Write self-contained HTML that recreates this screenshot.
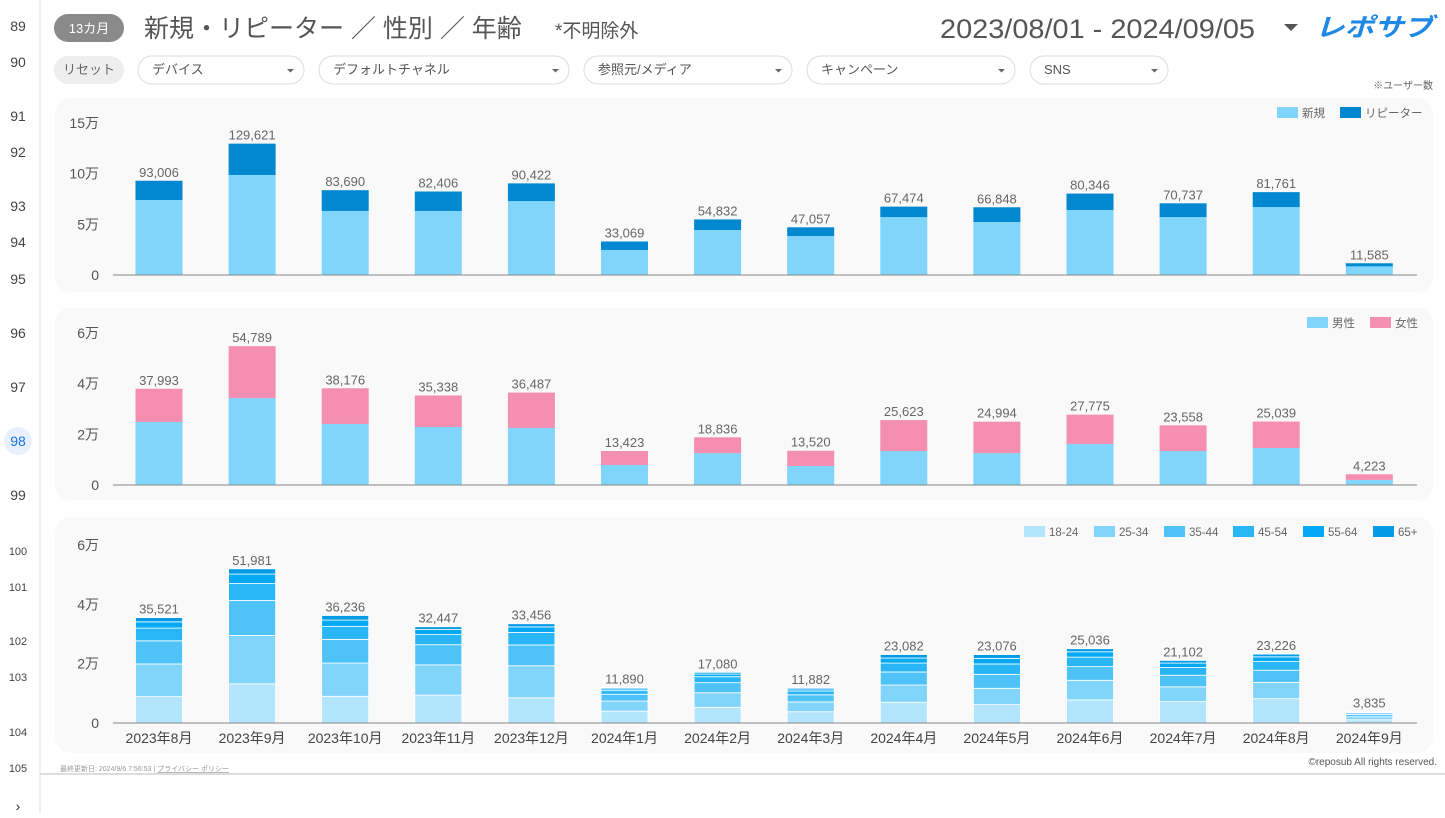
<!DOCTYPE html>
<html><head><meta charset="utf-8">
<style>
body{margin:0;background:#fff;width:1445px;height:813px;overflow:hidden;font-family:"Liberation Sans","Noto Sans CJK JP",sans-serif;}
svg text{font-family:"Liberation Sans","Noto Sans CJK JP",sans-serif;}
</style></head>
<body>
<svg id="s" width="1445" height="813" viewBox="0 0 1445 813" xmlns="http://www.w3.org/2000/svg">
<rect width="1445" height="813" fill="#fff"/>
<line x1="40" y1="0" x2="40" y2="813" stroke="#e0e0e0"/>
<g id="gutter"></g>
<g>
<rect x="54" y="14" width="70" height="28" rx="14" fill="#8a8a8a"/>
<text x="89" y="33" font-size="13" fill="#fff" text-anchor="middle">13カ月</text>
<text x="144" y="37" font-size="25" fill="#555">新規・リピーター ／ 性別 ／ 年齢</text>
<text x="555" y="37" font-size="19" fill="#555">*不明除外</text>
<text x="1255" y="38" font-size="27" fill="#555" text-anchor="end" textLength="315" lengthAdjust="spacingAndGlyphs">2023/08/01 - 2024/09/05</text>
<path d="M1284 24 l14 0 l-7 7 z" fill="#555"/>
<text x="1315" y="36" font-size="25" font-weight="bold" font-style="italic" fill="#1e88e5" textLength="118" lengthAdjust="spacingAndGlyphs">レポサブ</text>
</g>
<g id="filters"></g>
<text x="1433" y="89" font-size="10" fill="#666" text-anchor="end">※ユーザー数</text>
<g id="charts"></g>
<text x="60" y="771" font-size="7" fill="#999">最終更新日: 2024/9/6 7:56:53 | <tspan text-decoration="underline">プライバシー ポリシー</tspan></text>
<text x="1437" y="765" font-size="10" fill="#555" text-anchor="end">©reposub All rights reserved.</text>
<line x1="40" y1="774" x2="1445" y2="774" stroke="#ddd" stroke-width="2"/>
<text x="18" y="811" font-size="14" fill="#333" text-anchor="middle">›</text>
</svg>
<script>
const months=["2023年8月","2023年9月","2023年10月","2023年11月","2023年12月","2024年1月","2024年2月","2024年3月","2024年4月","2024年5月","2024年6月","2024年7月","2024年8月","2024年9月"];
const totalUsers=[93006,129621,83690,82406,90422,33069,54832,47057,67474,66848,80346,70737,81761,11585];
const newUsers=[74000,98700,63200,63200,73000,24700,44400,38500,57200,52300,64100,57200,67100,8500];
const genderTotal=[37993,54789,38176,35338,36487,13423,18836,13520,25623,24994,27775,23558,25039,4223];
const maleUsers=[24900,34300,24100,22900,22500,7900,12600,7500,13400,12600,16200,13400,14600,2000];
const ageTotal=[35521,51981,36236,32447,33456,11890,17080,11882,23082,23076,25036,21102,23226,3835];
const age1824=[8900,13200,9000,9400,8500,4000,5300,3800,7000,6200,7800,7200,8200,1100];
const age2534=[11000,16300,11200,10200,10800,3400,4900,3300,5800,5500,6600,5000,5500,1000];
const age3544=[7800,11800,8000,6800,7000,2300,3400,2400,4400,4700,4600,3900,4100,800];
const age4554=[4300,5700,4300,3400,4200,1200,2000,1300,3000,3500,3200,2600,2900,500];
const age5564=[2100,3200,2200,1700,1900,600,900,700,1700,1900,1800,1500,1600,250];
const age65=[1421,1781,1536,947,1056,390,580,382,1182,1276,1036,902,926,185];
const ticks1=["0","5万","10万","15万"];const tickVals1=[0,50000,100000,150000];
const ticks2=["0","2万","4万","6万"];const tickVals2=[0,20000,40000,60000];
const rowNums=["89","90","91","92","93","94","95","96","97","98","99","100","101","102","103","104","105"];
const rowY=[31,67,121,157,211,247,284,338,392,446,500,555,591,645,681,736,772];
const filters=["デバイス","デフォルトチャネル","参照元/メディア","キャンペーン","SNS"];

const NS="http://www.w3.org/2000/svg";
function mk(tag,attrs,parent,txt){const e=document.createElementNS(NS,tag);for(const k in attrs)e.setAttribute(k,attrs[k]);if(txt!==undefined)e.textContent=txt;parent.appendChild(e);return e;}
const g=document.getElementById('gutter');
rowNums.forEach((n,i)=>{
  if(n==="98"){const c=mk('circle',{cx:18,cy:rowY[i]-5,r:14,fill:'#e8f0fe'},g);
    
    }
  const t=mk('text',{x:18,y:rowY[i],'font-size':n.length>2?11:14,fill:n==="98"?'#1a73e8':'#444','text-anchor':'middle'},g,n);
  
  
});
const f=document.getElementById('filters');
const rb=mk('rect',{x:54,y:56,width:70,height:28,rx:14,fill:'#eeeeee'},f);


mk('text',{x:89,y:74,'font-size':13,fill:'#666','text-anchor':'middle'},f,'リセット');
const fx=[138,319,584,807,1030],fw=[166,250,208,208,138];
filters.forEach((l,i)=>{
  const r=mk('rect',{x:fx[i],y:56,width:fw[i],height:28,rx:14,fill:'#fff',stroke:'#ddd'},f);
  
  
  mk('text',{x:fx[i]+14,y:74,'font-size':13,fill:'#555'},f,l);
  mk('path',{d:`M${fx[i]+fw[i]-17} 69 l7 0 l-3.5 3.5 z`,fill:'#666'},f);
});
const charts=document.getElementById('charts');
const x0=159,dx=93.1,bw=47,left=113,right=1417;
function panel(name,top,h,base,topY,maxV,tickL,tickV,series,colors,totals,legend,legendXs,showX){
  const pg=mk('g',{},charts);
  
  
  mk('rect',{x:55,y:top,width:1378,height:h,rx:16,fill:'#f9f9f9'},pg);
  const ys=v=>base-(v/maxV)*(base-topY);
  tickV.forEach((v,i)=>{const t=mk('text',{x:99,y:ys(v)+5,'font-size':14,fill:'#555','text-anchor':'end'},pg,tickL[i]);
    
    });
  months.forEach((m,i)=>{
    const cx=x0+dx*i;let acc=0;
    series.forEach((s,k)=>{
      const v=s[i];const y1=ys(acc),y2=ys(acc+v);
      const r=mk('rect',{x:cx-bw/2,y:y2,width:bw,height:Math.max(0,y1-y2),fill:colors[k],stroke:'#fff','stroke-width':series.length>2?0.8:0},pg);
      
      
      acc+=v;
    });
    const lt=mk('text',{x:cx,y:ys(totals[i])-4,'font-size':13,fill:'#666','text-anchor':'middle'},pg,totals[i].toLocaleString('en-US'));
    
    
    if(showX){const xt=mk('text',{x:cx,y:base+20,'font-size':14,fill:'#444','text-anchor':'middle'},pg,m);
      
      }
  });
  mk('line',{x1:left,y1:base,x2:right,y2:base,stroke:'#888','stroke-width':1},pg);
  legend.forEach((l,k)=>{
    const lx=legendXs[k];
    const lr=mk('rect',{x:lx,y:top+9,width:21,height:11,fill:colors[k]},pg);
    
    
    mk('text',{x:lx+25,y:top+19,'font-size':11.5,fill:'#666'},pg,l);
  });
}
panel('new-repeater-chart',98,194,275,123,150000,ticks1,tickVals1,
  [newUsers,totalUsers.map((t,i)=>t-newUsers[i])],['#81d4fa','#0288d1'],totalUsers,['新規','リピーター'],[1277,1340],false);
panel('gender-chart',308,192,485,333,60000,ticks2,tickVals2,
  [maleUsers,genderTotal.map((t,i)=>t-maleUsers[i])],['#81d4fa','#f48fb1'],genderTotal,['男性','女性'],[1307,1370],false);
panel('age-chart',517,236,723,545,60000,ticks2,tickVals2,
  [age1824,age2534,age3544,age4554,age5564,age65],['#b3e5fc','#81d4fa','#4fc3f7','#29b6f6','#03a9f4','#039be5'],ageTotal,['18-24','25-34','35-44','45-54','55-64','65+'],[1024,1094,1164,1233,1303,1373],true);
</script>
</body></html>
